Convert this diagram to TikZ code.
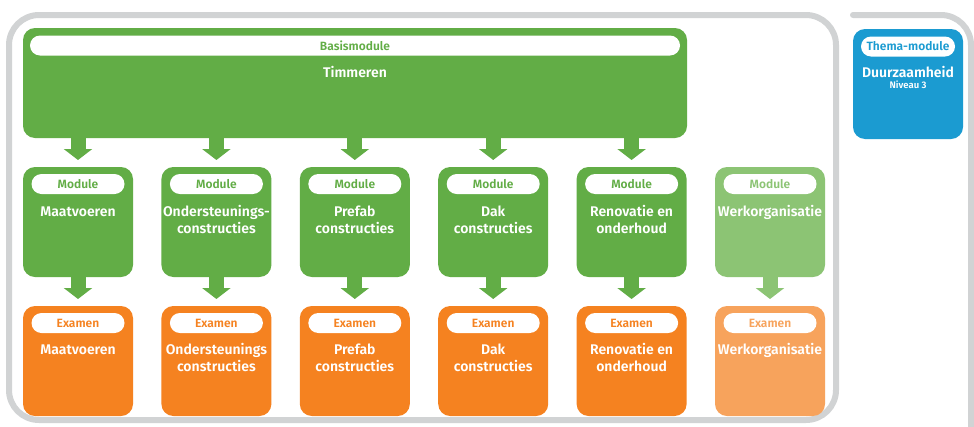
\documentclass[tikz,border=0pt]{standalone}
\usepackage{fontspec}
\setmainfont{Fira Sans}[UprightFont=* SemiBold, BoldFont=* Bold]
\usetikzlibrary{arrows.meta,calc}
\definecolor{cgreen}{HTML}{62AD46}
\definecolor{clgreen}{HTML}{8CC474}
\definecolor{corange}{HTML}{F58220}
\definecolor{clorange}{HTML}{F7A35C}
\definecolor{cblue}{HTML}{1B9BD1}
\definecolor{cgray}{HTML}{D1D3D4}
\tikzset{
  box/.style={rounded corners=12pt, minimum width=110pt, minimum height=110pt, inner sep=0pt, outer sep=0pt, anchor=north west},
  bar/.style={fill=white, rounded corners=10pt, minimum height=20pt, inner sep=0pt, font=\fontsize{12}{12}\selectfont},
  main/.style={text=white, align=center, font=\fontsize{14}{17}\selectfont, inner sep=0pt, anchor=base},
  arr/.style={line width=15pt, -{Triangle[width=28pt,length=11pt]}, shorten >=7pt},
  frame/.style={draw=cgray, line width=6pt},
}
\begin{document}
\begin{tikzpicture}[x=1pt,y=-1pt]
\useasboundingbox (0,0) rectangle (974,426);
\fill[white] (0,0) rectangle (974,426);
% frames
\draw[frame, rounded corners=30pt] (9,15) rectangle (836,420);
\draw[frame, line cap=round, rounded corners=30pt] (853,15) -- (971,15) -- (971,440);
% basis module
\node[box, fill=cgreen, minimum width=664pt] (basis) at (23,28) {};
\node[bar, minimum width=650pt, text=cgreen] (basisbar) at ($(basis.north)+(0,17.5)$) {Basismodule};
\node[main] (basistxt) at ($(basis.north)+(0,49)$) {Timmeren};
% thema module
\node[box, fill=cblue] (thema) at (853,29) {};
\node[bar, minimum width=94pt, text=cblue] (themabar) at ($(thema.north)+(0,17.5)$) {Thema-module};
\node[main] (thematxt) at ($(thema.north)+(0,48)$) {Duurzaamheid};
\node[main, font=\fontsize{9.5}{10}\selectfont] (niveau) at ($(thema.north)+(0,59)$) {Niveau 3};
% modules and exams
\foreach \i/\mt/\et/\nl/\fc/\ec/\top in {
  1/{Maatvoeren}/{Maatvoeren}/0/cgreen/corange/1,
  2/{Ondersteunings-\\constructies}/{Ondersteunings\\constructies}/1/cgreen/corange/1,
  3/{Prefab\\constructies}/{Prefab\\constructies}/1/cgreen/corange/1,
  4/{Dak\\constructies}/{Dak\\constructies}/1/cgreen/corange/1,
  5/{Renovatie en\\onderhoud}/{Renovatie en\\onderhoud}/1/cgreen/corange/1,
  6/{Werkorganisatie}/{Werkorganisatie}/0/clgreen/clorange/0}{
  \pgfmathsetmacro{\xx}{23+(\i-1)*138.4}
  \pgfmathsetmacro{\mo}{49+17*\nl}
  \pgfmathsetmacro{\eo}{48+17*\nl}
  \node[box, fill=\fc] (m\i) at (\xx,167) {};
  \node[bar, minimum width=93pt, text=\fc] (mbar\i) at ($(m\i.north)+(0,17)$) {Module};
  \node[main] (mtxt\i) at ($(m\i.north)+(0,\mo)$) {\mt};
  \node[box, fill=\ec] (e\i) at (\xx,306) {};
  \node[bar, minimum width=93pt, text=\ec] (ebar\i) at ($(e\i.north)+(0,17)$) {Examen};
  \node[main] (etxt\i) at ($(e\i.north)+(0,\eo)$) {\et};
  \draw[arr, draw=\fc, fill=\fc] (m\i.south) -- (e\i.north);
  \ifnum\top=1
    \draw[arr, draw=cgreen, fill=cgreen] (basis.south -| m\i.north) -- (m\i.north);
  \fi
}
\end{tikzpicture}
\end{document}
